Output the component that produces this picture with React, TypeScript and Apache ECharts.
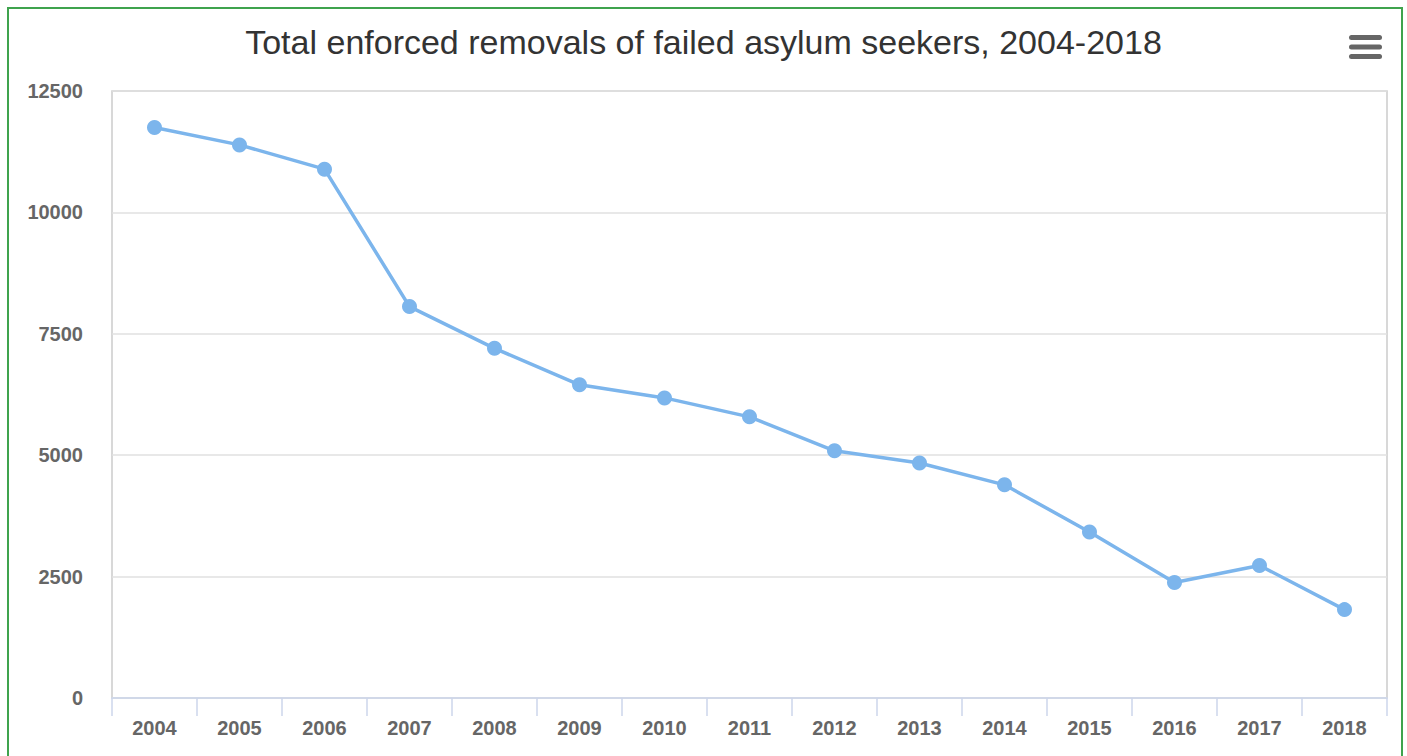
import React, { useEffect, useRef } from "react";
import * as echarts from "echarts";

const years = ["2004","2005","2006","2007","2008","2009","2010","2011","2012","2013","2014","2015","2016","2017","2018"];
const removals = [11750, 11390, 10890, 8060, 7200, 6450, 6180, 5790, 5090, 4840, 4390, 3420, 2380, 2730, 1820];
const yTicks = { min: 0, max: 12500, interval: 2500 };
const titleText = "Total enforced removals of failed asylum seekers, 2004-2018";

export default function App() {
  const ref = useRef<HTMLDivElement>(null);
  useEffect(() => {
    if (!ref.current) return;
    const chart = echarts.init(ref.current, null, { renderer: "svg" });
    const font = "'Liberation Sans', Arial, sans-serif";
    chart.setOption({
      animation: false,
      title: {
        text: titleText,
        left: "center",
        top: 20,
        textStyle: { fontFamily: font, fontSize: 34, fontWeight: "normal", color: "#333333" },
      },
      grid: {
        left: 112,
        top: 91,
        right: 1407 - 1387,
        bottom: 756 - 698,
        show: true,
        borderColor: "#cccccc",
        borderWidth: 1.5,
        backgroundColor: "transparent",
      },
      xAxis: {
        type: "category",
        data: years,
        boundaryGap: true,
        axisLine: { show: true, lineStyle: { color: "#ccd6eb", width: 1.5 } },
        axisTick: { show: true, length: 18, lineStyle: { color: "#ccd6eb", width: 1.5 } },
        axisLabel: { color: "#666666", fontSize: 20, fontWeight: "bold", fontFamily: font, margin: 20 },
        splitLine: { show: false },
      },
      yAxis: {
        type: "value",
        min: yTicks.min,
        max: yTicks.max,
        interval: yTicks.interval,
        axisLine: { show: false },
        axisTick: { show: false },
        axisLabel: {
          color: "#666666",
          fontSize: 20,
          fontWeight: "bold",
          fontFamily: font,
          margin: 29,
          formatter: (v: number) => String(v),
        },
        splitLine: { show: true, lineStyle: { color: "#e0e0e0", width: 1.5 } },
      },
      series: [
        {
          type: "line",
          data: removals,
          symbol: "circle",
          symbolSize: 15,
          lineStyle: { color: "#7cb5ec", width: 3.5 },
          itemStyle: { color: "#7cb5ec" },
        },
      ],
      graphic: [
        { type: "rect", shape: { x: 1349, y: 35, width: 33, height: 5, r: 2.5 }, style: { fill: "#666666" } },
        { type: "rect", shape: { x: 1349, y: 44.5, width: 33, height: 5, r: 2.5 }, style: { fill: "#666666" } },
        { type: "rect", shape: { x: 1349, y: 54, width: 33, height: 5, r: 2.5 }, style: { fill: "#666666" } },
      ],
    });
    return () => chart.dispose();
  }, []);
  return (
    <div style={{ position: "absolute", left: 0, top: 0, width: 1407, height: 756, overflow: "hidden", background: "#fff" }}>
      <div
        style={{
          position: "absolute",
          left: 7,
          top: 7,
          width: 1396,
          height: 770,
          border: "2px solid #3fa34d",
          boxSizing: "border-box",
        }}
      />
      <div ref={ref} style={{ position: "absolute", left: 0, top: 0, width: 1407, height: 756 }} />
    </div>
  );
}
